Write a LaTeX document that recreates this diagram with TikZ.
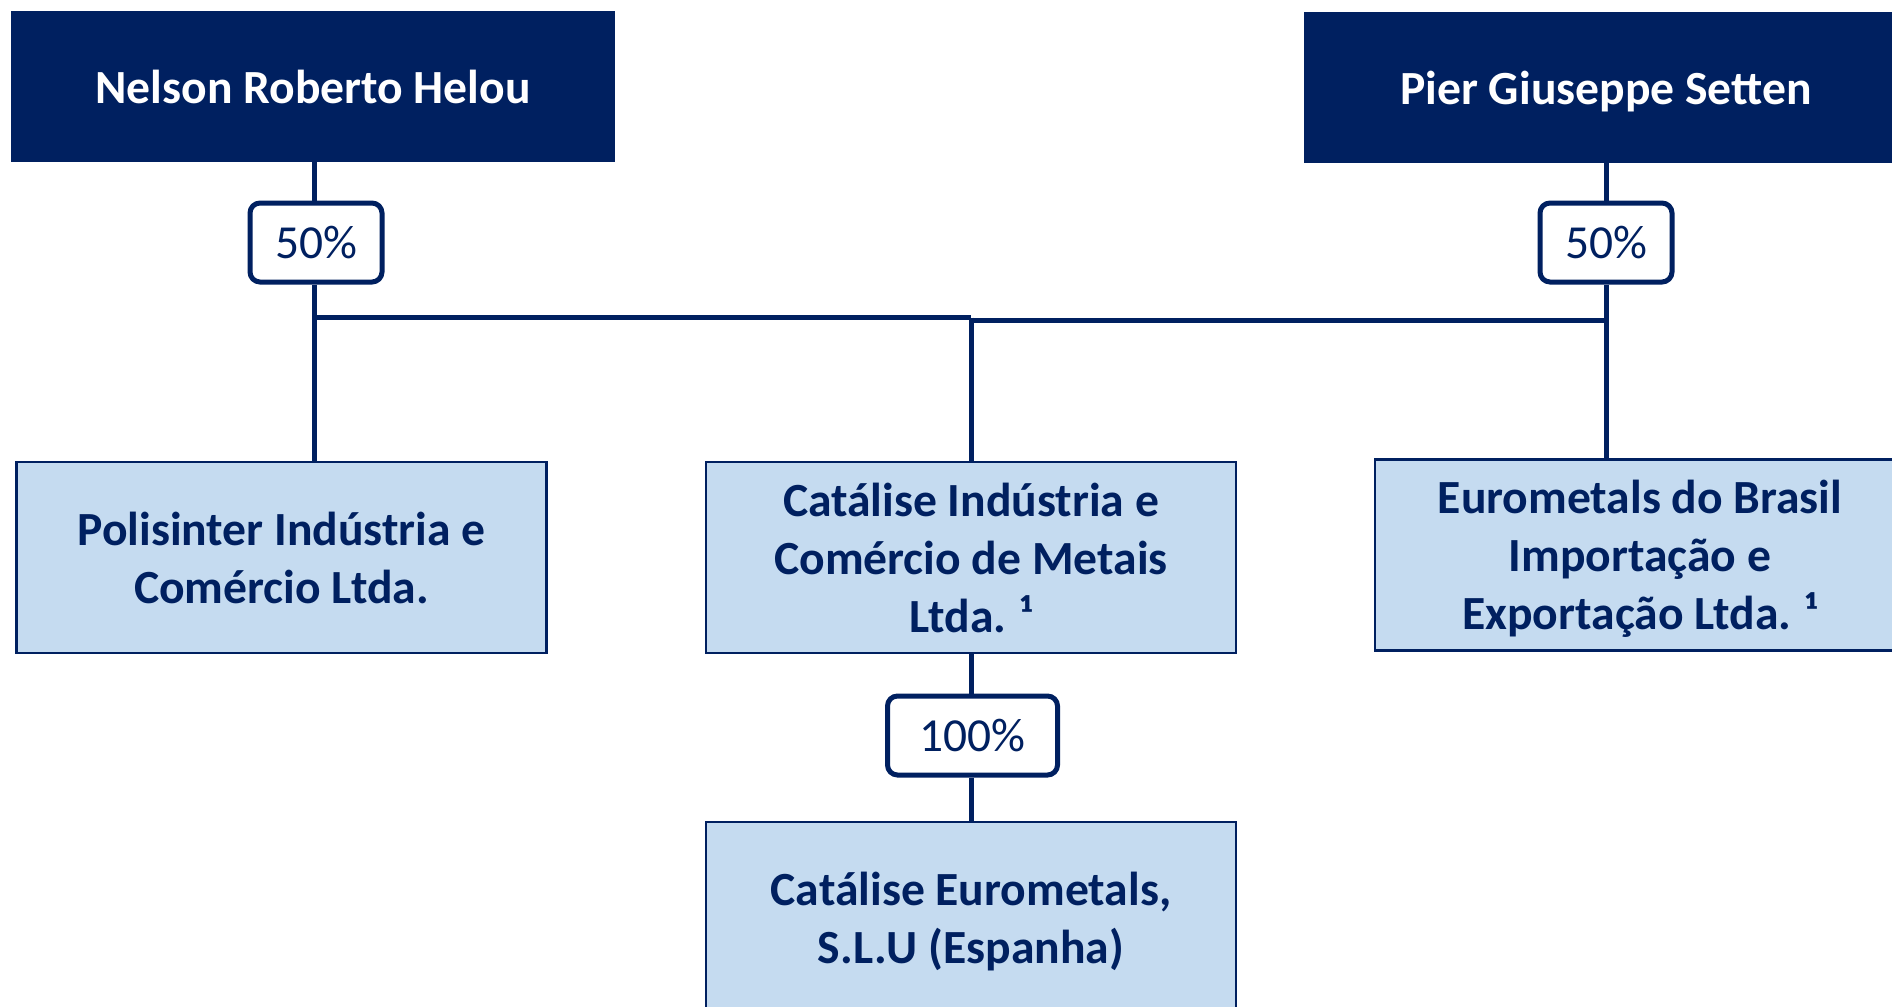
\documentclass[tikz,border=0pt]{standalone}
\usepackage{fontspec}
\setmainfont{Carlito}
\definecolor{navy}{HTML}{002060}
\definecolor{paleblue}{HTML}{C5DBF0}
\tikzset{
ownerbox/.style={fill=navy,text=white,inner sep=0pt,text depth=0pt,minimum width=302pt,minimum height=75.5pt,font=\fontsize{23.8}{29}\selectfont\bfseries},
firmbox/.style={draw=navy,line width=1.2pt,fill=paleblue,text=navy,inner sep=0pt,text depth=0pt,minimum width=265pt,minimum height=95.5pt,align=center,font=\fontsize{23.8}{29}\selectfont\bfseries},
pctbox/.style={draw=navy,line width=2.5pt,fill=white,text=navy,rounded corners=5pt,inner sep=0pt,minimum width=66pt,minimum height=39.5pt,font=\fontsize{23.7}{29}\selectfont},
link/.style={draw=navy,line width=2.5pt}
}
\begin{document}
\begin{tikzpicture}[x=0.5pt,y=-0.5pt]
\useasboundingbox (0,0) rectangle (1892,1007);
\clip (0,0) rectangle (1892,1007);
\fill[white] (0,0) rectangle (1892,1007);
\node[ownerbox] (nelson) at (313,86.5) {Nelson Roberto Helou};
\node[ownerbox] (pier) at (1606,87.5) {Pier Giuseppe Setten};
\node[pctbox] (pctA) at (316,242.5) {50\%};
\node[pctbox] (pctB) at (1606,242.5) {50\%};
\node[firmbox] (poli) at (281.5,557.5) {Polisinter Indústria e\\Comércio Ltda.};
\node[firmbox] (cat) at (971,557.5) {Catálise Indústria e\\Comércio de Metais\\Ltda. ¹};
\node[firmbox] (euro) at (1640,555) {Eurometals do Brasil\\Importação e\\Exportação Ltda. ¹};
\node[pctbox,minimum width=85pt] (pctC) at (972.5,735.5) {100\%};
\node[firmbox] (esp) at (971,917.5) {Catálise Eurometals,\\S.L.U (Espanha)};
\coordinate (jl) at (314,317.5);
\coordinate (jc) at (971,317.5);
\coordinate (jr) at (1606,320);
\draw[link] (jl |- nelson.south) -- (jl |- pctA.north);
\draw[link] (jl |- pctA.south) -- (jl) -- (jl |- poli.north);
\draw[link] (pctB |- pier.south) -- (pctB.north);
\draw[link] (pctB.south) -- (jr) -- (jr |- euro.north);
\draw[link] (jl) -- (jc);
\draw[link] (jc |- jr) -- (jr);
\draw[link] (jc) -- (cat.north);
\draw[link] (cat.south) -- (cat.south |- pctC.north);
\draw[link] (cat.south |- pctC.south) -- (esp.north);
\end{tikzpicture}
\end{document}
